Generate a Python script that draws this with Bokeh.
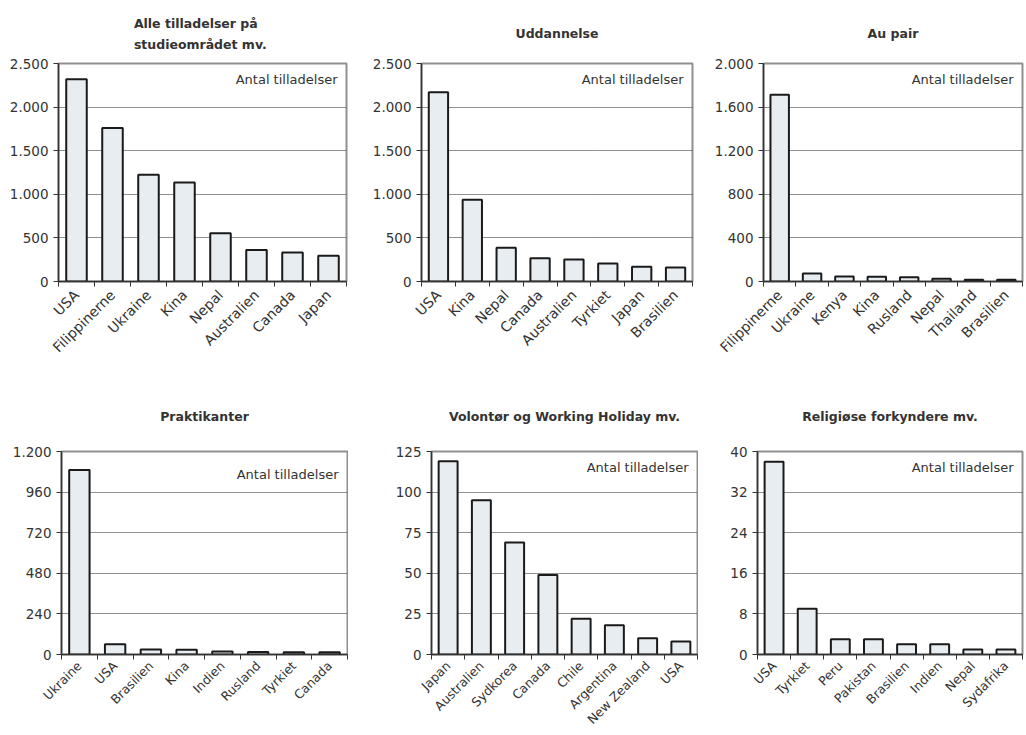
import math
from bokeh.plotting import figure
from bokeh.models import Range1d, FixedTicker, Label
from bokeh.layouts import column, row
from bokeh.embed import file_html
from bokeh.resources import INLINE

# ---------------- data ----------------
title_alle = "Alle tilladelser på\nstudieområdet  mv."
cats_alle = ["USA", "Filippinerne", "Ukraine", "Kina", "Nepal", "Australien", "Canada", "Japan"]
vals_alle = [2320, 1760, 1225, 1135, 553, 360, 333, 295]
yticks_alle = [0, 500, 1000, 1500, 2000, 2500]
ylabels_alle = ["0", "500", "1.000", "1.500", "2.000", "2.500"]

title_udd = "Uddannelse"
cats_udd = ["USA", "Kina", "Nepal", "Canada", "Australien", "Tyrkiet", "Japan", "Brasilien"]
vals_udd = [2170, 938, 387, 268, 253, 207, 168, 161]
yticks_udd = [0, 500, 1000, 1500, 2000, 2500]
ylabels_udd = ["0", "500", "1.000", "1.500", "2.000", "2.500"]

title_au = "Au pair"
cats_au = ["Filippinerne", "Ukraine", "Kenya", "Kina", "Rusland", "Nepal", "Thailand", "Brasilien"]
vals_au = [1714, 74, 46, 43, 40, 25, 15, 15]
yticks_au = [0, 400, 800, 1200, 1600, 2000]
ylabels_au = ["0", "400", "800", "1.200", "1.600", "2.000"]

title_prak = "Praktikanter"
cats_prak = ["Ukraine", "USA", "Brasilien", "Kina", "Indien", "Rusland", "Tyrkiet", "Canada"]
vals_prak = [1091, 61, 30, 28, 17, 15, 13, 13]
yticks_prak = [0, 240, 480, 720, 960, 1200]
ylabels_prak = ["0", "240", "480", "720", "960", "1.200"]

title_vol = "Volontør og Working Holiday mv."
cats_vol = ["Japan", "Australien", "Sydkorea", "Canada", "Chile", "Argentina", "New Zealand", "USA"]
vals_vol = [119, 95, 69, 49, 22, 18, 10, 8]
yticks_vol = [0, 25, 50, 75, 100, 125]
ylabels_vol = ["0", "25", "50", "75", "100", "125"]

title_rel = "Religiøse forkyndere mv."
cats_rel = ["USA", "Tyrkiet", "Peru", "Pakistan", "Brasilien", "Indien", "Nepal", "Sydafrika"]
vals_rel = [38, 9, 3, 3, 2, 2, 1, 1]
yticks_rel = [0, 8, 16, 24, 32, 40]
ylabels_rel = ["0", "8", "16", "24", "32", "40"]

unit_label = "Antal tilladelser"

FONT = "DejaVu Sans"
TXT = "#333333"


def panel(title, cats, vals, yticks, ylabels, width, height, bl, br, bt, bb,
          title_offset=0, title_standoff=12, label_dy=-16, xfont="14px", xstand=6,
          line_height=1.3):
    n = len(cats)
    p = figure(width=width, height=height, output_backend="svg", toolbar_location=None,
               x_range=Range1d(0, n), y_range=Range1d(yticks[0], yticks[-1]),
               min_border_left=bl, min_border_right=br, min_border_top=bt, min_border_bottom=bb,
               title=title)
    xs = [i + 0.5 for i in range(n)]
    p.vbar(x=xs, top=vals, width=0.57, bottom=0, fill_color="#e8edf2",
           line_color="#1a1a1a", line_width=2)

    p.title.text_font = FONT
    p.title.text_font_size = "12.5px"
    p.title.text_font_style = "bold"
    p.title.text_color = TXT
    p.title.text_line_height = line_height
    p.title.align = "center"
    p.title.offset = title_offset
    p.title.standoff = title_standoff

    p.outline_line_color = "#8f8f8f"
    p.outline_line_width = 2
    p.background_fill_color = "white"
    p.border_fill_color = "white"

    # y axis
    ya = p.yaxis[0]
    ya.ticker = FixedTicker(ticks=yticks, minor_ticks=[])
    ya.major_label_overrides = {t: l for t, l in zip(yticks, ylabels)}
    ya.major_label_text_font = FONT
    ya.major_label_text_font_size = "13.5px"
    ya.major_label_text_color = TXT
    ya.axis_line_color = "#333333"
    ya.axis_line_width = 1.5
    ya.major_tick_line_color = "#333333"
    ya.major_tick_in = 0
    ya.major_tick_out = 5
    ya.minor_tick_line_color = None
    ya.major_label_standoff = 5

    # x axis: labels at centers, ticks at category boundaries
    xa = p.xaxis[0]
    xa.ticker = FixedTicker(ticks=xs, minor_ticks=list(range(n + 1)))
    xa.major_label_overrides = {x: c for x, c in zip(xs, cats)}
    xa.major_label_orientation = math.pi / 4
    xa.major_label_text_font = FONT
    xa.major_label_text_font_size = xfont
    xa.major_label_text_color = TXT
    xa.axis_line_color = "#333333"
    xa.axis_line_width = 1.5
    xa.major_tick_line_color = None
    xa.major_tick_in = 0
    xa.major_tick_out = 0
    xa.minor_tick_line_color = "#333333"
    xa.minor_tick_in = 0
    xa.minor_tick_out = 5
    xa.major_label_standoff = xstand

    p.xgrid.visible = False
    p.ygrid.grid_line_color = "#222222"
    p.ygrid.grid_line_dash = "1 1"
    p.ygrid.grid_line_width = 1

    p.add_layout(Label(x=n, y=yticks[-1], x_offset=-9, y_offset=label_dy, text=unit_label,
                       text_align="right", text_baseline="middle", text_font=FONT,
                       text_font_size="13px", text_color=TXT))
    return p


p1 = panel(title_alle, cats_alle, vals_alle, yticks_alle, ylabels_alle,
           348, 378, 58, 2, 63, 97, title_offset=-25, title_standoff=24, line_height=1.4)
p2 = panel(title_udd, cats_udd, vals_udd, yticks_udd, ylabels_udd,
           350, 378, 73, 6, 63, 97, title_offset=9, title_standoff=45)
p3 = panel(title_au, cats_au, vals_au, yticks_au, ylabels_au,
           328, 378, 65, 4, 63, 97, title_offset=0, title_standoff=46)
p4 = panel(title_prak, cats_prak, vals_prak, yticks_prak, ylabels_prak,
           348, 357, 61, 1, 73, 78, title_offset=-22, title_standoff=56, label_dy=-23,
           xfont="12.5px", xstand=4)
p5 = panel(title_vol, cats_vol, vals_vol, yticks_vol, ylabels_vol,
           350, 357, 83, 1, 73, 78, title_offset=19, title_standoff=56,
           xfont="12.5px", xstand=4)
p6 = panel(title_rel, cats_rel, vals_rel, yticks_rel, ylabels_rel,
           328, 357, 59, 4, 73, 78, title_offset=0, title_standoff=56,
           xfont="12.5px", xstand=4)

layout = column(row(p1, p2, p3), row(p4, p5, p6), width=1026, height=735,
                styles={"overflow": "hidden"})

open("out.html", "w").write(file_html(layout, INLINE))
